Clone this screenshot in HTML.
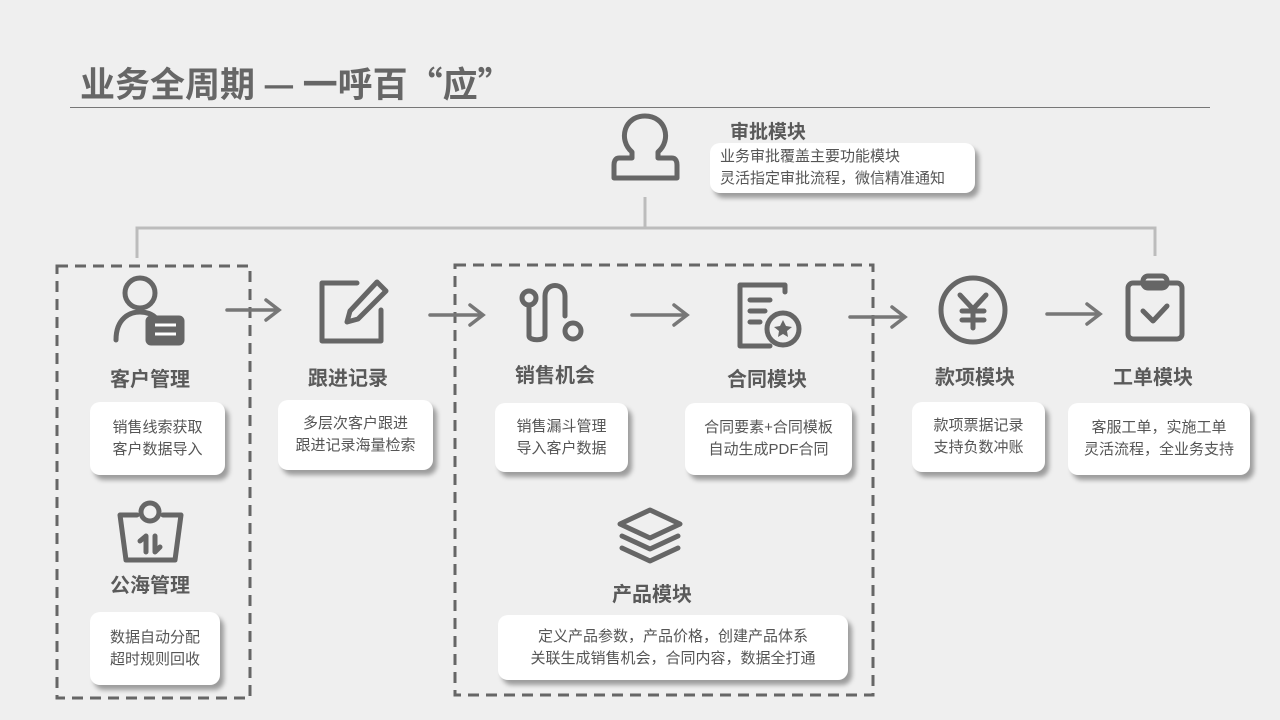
<!DOCTYPE html>
<html><head><meta charset="utf-8"><style>
body{margin:0;width:1280px;height:720px;background:#efefef;overflow:hidden;position:relative;font-family:"Liberation Sans","Noto Sans CJK SC",sans-serif;color:#555}
.t{position:absolute;font-weight:bold;font-size:20px;color:#5a5a5a;transform:translateX(-50%);white-space:nowrap}
.b{position:absolute;background:#fff;border-radius:10px;box-shadow:4px 5px 5px rgba(0,0,0,.35);font-size:15px;line-height:22px;color:#555;text-align:center;display:flex;flex-direction:column;justify-content:center}
svg{position:absolute;left:0;top:0}
</style></head><body>
<div style="position:absolute;left:80px;top:58px;font-size:35px;font-weight:bold;color:#666;white-space:nowrap;font-family:'Noto Sans CJK SC',sans-serif;line-height:50px">业务全周期 — 一呼百“应”</div>
<div style="position:absolute;left:70px;top:107px;width:1140px;height:1px;background:#777"></div>
<svg width="1280" height="720">
<g fill="none" stroke="#bcbcbc" stroke-width="3">
<path d="M645 197V228M137 258V228H1155V256"/>
</g>
<g fill="none" stroke="#666" stroke-width="3" stroke-dasharray="11 7">
<rect x="57" y="266" width="193" height="432"/>
<rect x="455" y="265" width="418" height="430"/>
</g>
<g fill="none" stroke="#777" stroke-width="3.5" stroke-linecap="round">
<path d="M227 310H278M266 300L279 310L266 320"/>
<path d="M430 315H482M470 305L483 315L470 325"/>
<path d="M632 315H686M674 305L687 315L674 325"/>
<path d="M850 317H904M892 307L905 317L892 327"/>
<path d="M1047 314H1099M1087 304L1100 314L1087 324"/>
</g>
<g fill="none" stroke="#666" stroke-width="5" stroke-linejoin="round" stroke-linecap="round">
<path d="M632 152 C618 140 624 116 645 116 C666 116 672 140 658 152 L658 158 H672 C676 158 677 162 677 165 V178 H614 V165 C614 162 615 158 619 158 H632 Z"/>
<circle cx="140" cy="293" r="15"/>
<path d="M116 340 C116 318 130 312 140 312 C146 312 152 314 156 318"/>
<rect x="148" y="318" width="34" height="25" rx="3" fill="#666"/>
<path d="M357 283H322V341H381V310"/>
<path d="M377 282L386 291L358 319L347 322L350 311Z"/>
<circle cx="529" cy="298" r="7"/>
<path d="M529 305V336 M529 336 C529 341 545 341 545 336 V296 C545 282 565 282 565 296 V316"/>
<circle cx="573" cy="331" r="8"/>
<path d="M785 292V285H740V346H770"/>
<path d="M750 300H770M750 311H765M750 322H760"/>
<circle cx="783" cy="329" r="16"/>
<circle cx="973" cy="310" r="32"/>
<path d="M960 295L973 309L986 295M973 309V328M962 311H984M962 320H984"/>
<rect x="1128" y="283" width="54" height="56" rx="5"/>
<rect x="1143" y="276" width="24" height="12" rx="5"/>
<path d="M1143 311L1153 321L1167 306"/>
<circle cx="150" cy="512" r="9"/>
<path d="M137 515H120L126 560H175L181 515H163"/>
<path d="M146 536V552M140 541L146 536M155 536V552M155 552L160 547"/>
<path d="M650 510L680 524L650 538L620 524Z"/>
<path d="M622 536L650 549L678 536M622 548L650 561L678 548"/>
</g>
<path d="M783 320l3 6 6 1-5 4 1 6-5-3-5 3 1-6-5-4 6-1z" fill="#666"/>
<path d="M155 325H176M155 334H176" stroke="#fff" stroke-width="3"/>
</svg>
<div style="position:absolute;left:730px;top:117px;font-weight:bold;font-size:19px;color:#5a5a5a">审批模块</div>
<div class="b" style="left:710px;top:143px;width:265px;height:50px;text-align:left;padding-left:10px;box-sizing:border-box">业务审批覆盖主要功能模块<br>灵活指定审批流程，微信精准通知</div>
<div class="t" style="left:150px;top:363px">客户管理</div>
<div class="t" style="left:348px;top:362px">跟进记录</div>
<div class="t" style="left:555px;top:359px">销售机会</div>
<div class="t" style="left:767px;top:363px">合同模块</div>
<div class="t" style="left:975px;top:361px">款项模块</div>
<div class="t" style="left:1153px;top:361px">工单模块</div>
<div class="t" style="left:150px;top:569px">公海管理</div>
<div class="t" style="left:652px;top:578px">产品模块</div>
<div class="b" style="left:90px;top:402px;width:135px;height:73px">销售线索获取<br>客户数据导入</div>
<div class="b" style="left:278px;top:400px;width:155px;height:70px">多层次客户跟进<br>跟进记录海量检索</div>
<div class="b" style="left:495px;top:403px;width:133px;height:69px">销售漏斗管理<br>导入客户数据</div>
<div class="b" style="left:685px;top:403px;width:167px;height:72px">合同要素+合同模板<br>自动生成PDF合同</div>
<div class="b" style="left:912px;top:402px;width:133px;height:70px">款项票据记录<br>支持负数冲账</div>
<div class="b" style="left:1068px;top:403px;width:182px;height:72px">客服工单，实施工单<br>灵活流程，全业务支持</div>
<div class="b" style="left:90px;top:612px;width:130px;height:73px">数据自动分配<br>超时规则回收</div>
<div class="b" style="left:498px;top:615px;width:350px;height:65px">定义产品参数，产品价格，创建产品体系<br>关联生成销售机会，合同内容，数据全打通</div>
</body></html>
